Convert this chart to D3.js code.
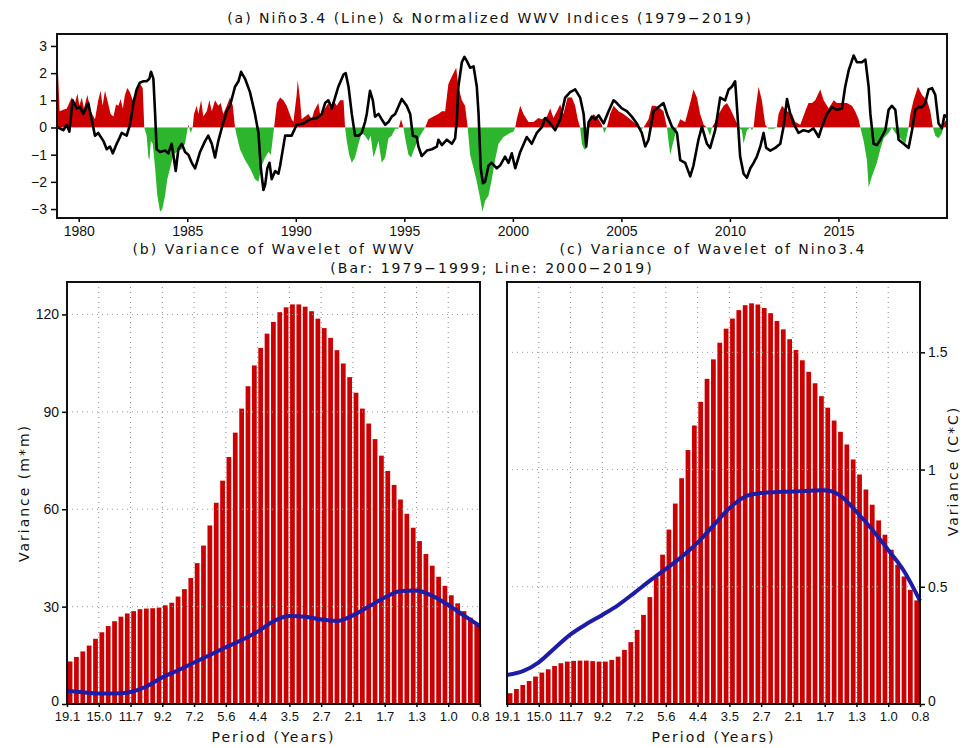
<!DOCTYPE html>
<html>
<head>
<meta charset="utf-8">
<script src="https://cdn.jsdelivr.net/npm/d3@7"></script>
<style>
body { margin: 0; background: #fff; }
text { font-family: "Liberation Sans", Arial, sans-serif; fill: #111; }
.title { font-family: "DejaVu Sans", sans-serif; font-size: 14px; letter-spacing: 2px; }
</style>
</head>
<body>
<div id="chart"></div>
<script>
// ---- data ----
var yearTicks = [1980, 1985, 1990, 1995, 2000, 2005, 2010, 2015];
var indexTicks = [-3, -2, -1, 0, 1, 2, 3];

// normalized WWV index [decimal year, value]
var wwvIndex = [
  [1979.0,2.6],[1979.05,2.0],[1979.12,0.6],[1979.29,0.65],[1979.45,0.7],[1979.68,1.1],[1979.83,0.9],[1979.94,1.25],[1980.03,0.8],
  [1980.14,1.1],[1980.24,0.7],[1980.40,1.2],[1980.55,0.6],[1980.75,0.3],[1980.90,1.0],[1981.01,1.35],[1981.10,0.8],
  [1981.21,1.35],[1981.32,1.0],[1981.47,0.5],[1981.60,0.4],[1981.72,0.85],[1981.83,0.8],[1981.93,1.05],[1982.03,0.7],
  [1982.13,1.2],[1982.24,1.45],[1982.36,1.3],[1982.49,1.0],[1982.67,1.4],[1982.82,1.6],[1982.95,1.45],[1983.02,0],
  [1983.13,-0.3],[1983.21,-1.1],[1983.26,-1.2],[1983.32,-0.5],[1983.41,-0.6],[1983.52,-1.5],[1983.62,-2.5],[1983.75,-3.1],
  [1983.85,-3.0],[1983.98,-2.5],[1984.08,-1.9],[1984.21,-1.5],[1984.36,-1.0],[1984.51,-0.9],[1984.75,-0.8],[1984.90,-0.6],
  [1984.98,-0.2],[1985.05,0.1],[1985.16,-0.2],[1985.25,0],[1985.31,0.5],[1985.44,0.8],[1985.51,0.5],[1985.64,1.0],
  [1985.74,0.4],[1985.90,0.6],[1986.02,1.0],[1986.13,0.6],[1986.28,1.0],[1986.43,0.8],[1986.54,0.9],[1986.66,0.5],
  [1986.82,0.8],[1986.97,1.1],[1987.10,0.8],[1987.20,0],[1987.28,-0.3],[1987.43,-0.8],[1987.66,-1.2],[1987.89,-1.5],
  [1988.12,-1.9],[1988.28,-2.0],[1988.43,-1.4],[1988.59,-1.1],[1988.74,-0.9],[1988.85,-1.0],[1988.94,-0.4],[1989.00,0],
  [1989.13,0.9],[1989.28,1.1],[1989.43,1.0],[1989.58,0.8],[1989.81,0.3],[1989.89,0.2],[1990.04,1.2],[1990.09,1.75],
  [1990.20,1.0],[1990.27,0.3],[1990.43,0.4],[1990.58,0.5],[1990.74,0.3],[1990.84,0.6],[1991.04,0.9],[1991.12,0.5],
  [1991.27,0.6],[1991.50,0.9],[1991.58,0.7],[1991.73,1.0],[1991.89,0.8],[1992.04,1.0],[1992.20,1.0],[1992.27,0],
  [1992.35,-0.5],[1992.46,-1.0],[1992.58,-1.3],[1992.73,-1.1],[1992.89,-0.6],[1993.04,-0.2],[1993.19,-0.3],[1993.35,-0.5],
  [1993.45,-0.3],[1993.58,-1.1],[1993.70,-0.8],[1993.81,-0.5],[1993.96,-1.3],[1994.12,-1.1],[1994.27,-0.4],[1994.42,-0.3],
  [1994.58,-0.05],[1994.73,-0.05],[1994.85,0.3],[1994.96,0],[1995.04,-0.4],[1995.19,-1.0],[1995.31,-1.1],[1995.50,-0.7],
  [1995.73,-0.3],[1995.96,0],[1996.11,0.3],[1996.34,0.4],[1996.57,0.5],[1996.73,0.6],[1996.88,0.6],[1997.03,1.6],
  [1997.26,2.0],[1997.39,2.2],[1997.49,1.5],[1997.65,1.0],[1997.80,0.8],[1997.92,0],[1998.03,-1.0],[1998.19,-1.5],
  [1998.34,-2.0],[1998.49,-2.6],[1998.60,-3.1],[1998.72,-2.7],[1998.88,-2.5],[1999.03,-1.9],[1999.18,-1.2],[1999.34,-0.6],
  [1999.57,-0.35],[1999.88,-0.2],[2000.03,-0.15],[2000.11,0],[2000.18,0.3],[2000.34,0.8],[2000.49,0.5],[2000.72,0.2],
  [2000.95,0.2],[2001.18,0.35],[2001.33,0.3],[2001.57,0.4],[2001.72,0.7],[2001.87,0.35],[2002.03,0.6],[2002.18,0.85],
  [2002.33,0.5],[2002.52,1.1],[2002.72,1.1],[2002.87,0.8],[2002.99,0.3],[2003.10,0],[2003.18,-0.6],[2003.29,-0.8],
  [2003.38,-0.8],[2003.42,0],[2003.56,0.3],[2003.72,0.5],[2003.95,0.3],[2004.10,0.1],[2004.21,-0.2],[2004.33,0],
  [2004.48,0.5],[2004.64,0.8],[2004.87,0.6],[2005.10,0.5],[2005.41,0.3],[2005.71,0.1],[2005.87,-0.1],[2006.02,0],
  [2006.25,0.3],[2006.40,0.8],[2006.56,0.8],[2006.79,0.7],[2006.94,0.6],[2007.10,0],[2007.17,-0.5],[2007.25,-1.0],
  [2007.37,-0.6],[2007.56,0],[2007.71,0.3],[2007.94,0.2],[2008.17,0.9],[2008.32,1.4],[2008.48,1.1],[2008.63,0.5],
  [2008.79,0.1],[2008.94,0],[2009.09,-0.3],[2009.17,0],[2009.32,0.2],[2009.48,0.5],[2009.71,0.8],[2009.86,0.9],
  [2010.01,0.7],[2010.24,0.3],[2010.40,0],[2010.55,-0.1],[2010.63,-0.6],[2010.78,-0.1],[2010.94,0],[2011.01,-0.1],
  [2011.09,0],[2011.17,0.6],[2011.32,1.5],[2011.47,1.0],[2011.63,0.1],[2011.78,-0.05],[2012.01,-0.05],[2012.16,0],
  [2012.24,0.5],[2012.40,0.8],[2012.63,0.6],[2012.86,0.5],[2013.01,0.2],[2013.24,0.1],[2013.47,0.6],[2013.62,0.9],
  [2013.78,0.9],[2013.93,1.0],[2014.16,1.4],[2014.32,1.0],[2014.55,0.7],[2014.78,1.0],[2014.93,0.9],[2015.16,0.9],
  [2015.39,0.9],[2015.62,0.8],[2015.77,0.6],[2015.93,0.3],[2016.01,0],[2016.16,-0.5],[2016.31,-1.2],[2016.39,-2.2],
  [2016.54,-1.8],[2016.77,-1.3],[2016.93,-0.8],[2017.08,-0.4],[2017.31,-0.2],[2017.46,0],[2017.62,-0.2],[2017.85,-0.4],
  [2018.08,-0.6],[2018.23,0],[2018.31,0.5],[2018.46,1.0],[2018.66,1.5],[2018.85,1.2],[2019.08,1.0],[2019.23,0.6],
  [2019.35,0],[2019.46,-0.3],[2019.61,-0.4],[2019.77,-0.2],[2019.88,0.2],[2020.0,0.3]
];

// Nino3.4 index [decimal year, value]
var ninoIndex = [
  [1979.0,0.0],[1979.06,0.0],[1979.29,-0.1],[1979.45,0.1],[1979.57,-0.15],[1979.72,1.0],[1979.91,0.7],[1980.06,0.75],
  [1980.21,0.5],[1980.44,0.9],[1980.75,-0.3],[1980.90,-0.2],[1981.14,-0.5],[1981.29,-0.8],[1981.44,-0.7],[1981.57,-0.95],
  [1981.75,-0.6],[1981.87,-0.4],[1981.98,-0.2],[1982.21,-0.3],[1982.36,0.1],[1982.52,0.9],[1982.67,1.4],[1982.82,1.65],
  [1982.98,1.7],[1983.13,1.7],[1983.26,1.8],[1983.33,2.05],[1983.44,1.8],[1983.52,0.5],[1983.59,-0.8],[1983.75,-0.9],
  [1983.98,-0.85],[1984.13,-0.95],[1984.28,-0.6],[1984.36,-1.0],[1984.47,-1.6],[1984.59,-0.8],[1984.75,-0.6],[1984.90,-0.9],
  [1985.05,-1.0],[1985.21,-1.3],[1985.36,-1.5],[1985.44,-1.3],[1985.59,-0.9],[1985.82,-0.5],[1985.97,-0.3],[1986.13,-0.6],
  [1986.28,-1.1],[1986.43,-0.5],[1986.63,0.1],[1986.82,0.6],[1986.97,0.8],[1987.20,1.5],[1987.36,1.7],[1987.48,2.05],
  [1987.66,1.8],[1987.89,1.3],[1988.12,0.5],[1988.28,-0.2],[1988.39,-1.5],[1988.51,-2.3],[1988.59,-2.1],[1988.69,-1.5],
  [1988.79,-1.3],[1988.89,-1.9],[1989.05,-1.6],[1989.20,-1.7],[1989.28,-1.4],[1989.51,-0.3],[1989.81,-0.3],[1990.04,0.1],
  [1990.35,0.15],[1990.66,0.3],[1990.97,0.35],[1991.20,0.5],[1991.35,0.9],[1991.50,1.0],[1991.66,0.7],[1991.81,1.1],
  [1991.96,1.5],[1992.20,1.95],[1992.30,2.0],[1992.43,1.5],[1992.58,0.5],[1992.73,-0.3],[1992.89,-0.3],[1993.04,-0.2],
  [1993.19,0.2],[1993.27,0.5],[1993.42,1.35],[1993.55,1.0],[1993.65,0.4],[1993.81,0.5],[1993.96,0.3],[1994.12,0.1],
  [1994.27,0.2],[1994.42,0.4],[1994.58,0.5],[1994.88,1.05],[1995.11,0.8],[1995.27,0.5],[1995.39,-0.3],[1995.57,-0.35],
  [1995.65,-0.7],[1995.80,-1.05],[1996.04,-0.85],[1996.27,-0.8],[1996.50,-0.7],[1996.57,-0.45],[1996.73,-0.65],[1996.96,-0.45],
  [1997.19,-0.6],[1997.34,-0.4],[1997.42,0.3],[1997.49,1.5],[1997.65,2.4],[1997.77,2.6],[1997.88,2.45],[1998.03,2.2],
  [1998.19,2.25],[1998.34,1.5],[1998.42,0.5],[1998.52,-1.5],[1998.62,-2.05],[1998.72,-2.0],[1998.88,-1.4],[1999.03,-1.3],
  [1999.26,-1.5],[1999.41,-1.4],[1999.64,-1.07],[1999.80,-1.3],[1999.95,-0.95],[2000.11,-1.5],[2000.34,-0.9],[2000.64,-0.35],
  [2000.87,-0.6],[2001.10,-0.2],[2001.33,0.0],[2001.49,0.35],[2001.72,0.15],[2001.95,-0.1],[2002.18,0.3],[2002.41,1.1],
  [2002.64,1.3],[2002.87,1.4],[2003.10,1.1],[2003.26,0.5],[2003.38,-0.7],[2003.49,0.2],[2003.64,0.4],[2003.79,0.3],
  [2003.95,0.45],[2004.18,0.15],[2004.41,0.6],[2004.64,1.0],[2004.79,0.9],[2005.02,0.7],[2005.25,0.6],[2005.48,0.4],
  [2005.71,0.15],[2005.94,-0.2],[2006.10,-0.7],[2006.25,-0.45],[2006.48,0.6],[2006.71,0.75],[2006.94,0.9],[2007.10,0.5],
  [2007.33,0.03],[2007.56,-0.2],[2007.71,-1.2],[2007.94,-1.3],[2008.17,-1.8],[2008.32,-1.4],[2008.55,-0.45],[2008.71,0.03],
  [2008.94,-0.6],[2009.09,-0.75],[2009.32,-0.1],[2009.55,1.1],[2009.78,1.0],[2009.94,1.4],[2010.09,1.5],[2010.24,1.7],
  [2010.35,0.45],[2010.47,-1.07],[2010.63,-1.7],[2010.78,-1.85],[2010.94,-1.5],[2011.09,-1.3],[2011.24,-1.07],[2011.40,-0.7],
  [2011.55,-0.2],[2011.67,-0.75],[2011.86,-0.85],[2012.09,-0.75],[2012.32,-0.6],[2012.47,0.03],[2012.63,1.05],[2012.78,0.5],
  [2012.93,0.15],[2013.16,-0.2],[2013.39,-0.1],[2013.62,-0.15],[2013.85,-0.03],[2014.09,-0.35],[2014.24,0.03],[2014.47,0.5],
  [2014.70,0.75],[2014.93,0.65],[2015.16,0.7],[2015.31,1.5],[2015.47,2.1],[2015.70,2.65],[2015.85,2.4],[2016.08,2.4],
  [2016.24,2.5],[2016.39,1.5],[2016.47,0.5],[2016.62,-0.6],[2016.77,-0.65],[2016.93,-0.45],[2017.16,-0.1],[2017.31,0.65],
  [2017.46,0.8],[2017.62,0.65],[2017.77,-0.45],[2018.00,-0.6],[2018.23,-0.75],[2018.39,-0.1],[2018.54,0.65],[2018.69,0.75],
  [2018.85,0.75],[2019.00,0.9],[2019.15,1.4],[2019.31,1.45],[2019.46,1.2],[2019.61,0.15],[2019.77,-0.03],[2019.88,0.45],
  [2020.0,0.4]
];

// wavelet periods (years), one label every 5 scales
var periodLabels = ["19.1","15.0","11.7","9.2","7.2","5.6","4.4","3.5","2.7","2.1","1.7","1.3","1.0","0.8"];

// (b) WWV wavelet variance, 1979-1999 bars (65 scales)
var wwvBars = [
  13.1,14.5,16.2,18.0,20.1,22.1,24.0,25.5,26.9,27.9,28.6,29.2,29.4,29.5,29.7,30.4,31.2,33.1,35.4,38.8,
  43.4,48.8,55.0,62.0,68.8,76.1,83.6,91.0,97.9,104.3,109.7,114.1,117.7,120.7,122.2,123.1,123.1,122.4,121.0,118.7,
  115.8,112.8,109.0,104.9,100.7,95.9,91.0,86.4,81.6,76.5,71.8,67.5,63.0,58.6,54.3,50.2,46.2,42.6,39.2,36.4,
  33.5,31.0,28.6,26.6,24.5
];
// (b) 2000-2019 line, sampled every 2.5 scales
var wwvLine = [4.1,3.6,3.2,3.2,3.7,5.4,8.2,10.4,12.8,15.1,17.5,19.7,22.3,25.5,27.1,26.9,26.0,25.6,27.3,30.0,32.8,34.8,35.0,33.3,30.5,27.2,24.0];

// (c) Nino3.4 wavelet variance, 1979-1999 bars
var ninoBars = [
  0.046,0.064,0.081,0.098,0.117,0.134,0.148,0.162,0.174,0.181,0.184,0.185,0.185,0.183,0.181,0.181,0.188,0.202,0.231,0.264,
  0.316,0.380,0.456,0.540,0.637,0.744,0.855,0.963,1.083,1.188,1.289,1.387,1.470,1.541,1.601,1.644,1.680,1.701,1.709,1.704,
  1.689,1.667,1.634,1.598,1.556,1.510,1.466,1.417,1.368,1.313,1.264,1.209,1.161,1.107,1.043,0.979,0.915,0.850,0.783,0.722,
  0.658,0.594,0.544,0.487,0.442
];
// (c) 2000-2019 line
var ninoLine = [0.124,0.140,0.178,0.238,0.297,0.341,0.380,0.422,0.473,0.526,0.576,0.628,0.688,0.762,0.835,0.885,0.900,0.904,0.906,0.910,0.912,0.888,0.820,0.743,0.657,0.566,0.440];

var red = "#cc0000", green = "#2db52d", blue = "#1c1ca6";

var width = 964, height = 748;
var svg = d3.select("#chart").append("svg")
  .attr("width", width)
  .attr("height", height);

// ===== panel (a) =====
var pa = {x0: 57, x1: 947, y0: 34, y1: 218};
var xa = d3.scaleLinear().domain([1979, 2020]).range([pa.x0, pa.x1]);
var ya = d3.scaleLinear().domain([-3.33, 3.44]).range([pa.y1, pa.y0]);

var defs = svg.append("defs");
defs.append("clipPath").attr("id", "clip-pos").append("rect")
  .attr("x", pa.x0).attr("y", pa.y0)
  .attr("width", pa.x1 - pa.x0).attr("height", ya(0) - pa.y0);
defs.append("clipPath").attr("id", "clip-neg").append("rect")
  .attr("x", pa.x0).attr("y", ya(0))
  .attr("width", pa.x1 - pa.x0).attr("height", pa.y1 - ya(0));

var area = d3.area()
  .x(function(d) { return xa(d[0]); })
  .y0(ya(0))
  .y1(function(d) { return ya(d[1]); });

svg.append("path").datum(wwvIndex)
  .attr("d", area).attr("fill", red).attr("clip-path", "url(#clip-pos)");
svg.append("path").datum(wwvIndex)
  .attr("d", area).attr("fill", green).attr("clip-path", "url(#clip-neg)");

svg.append("path").datum(ninoIndex)
  .attr("d", d3.line()
    .x(function(d) { return xa(d[0]); })
    .y(function(d) { return ya(d[1]); }))
  .attr("fill", "none")
  .attr("stroke", "#000")
  .attr("stroke-width", 2.6)
  .attr("stroke-linejoin", "round");

var axA = svg.append("g").attr("transform", "translate(0," + pa.y1 + ")")
  .call(d3.axisBottom(xa).tickValues(yearTicks).tickFormat(d3.format("d")).tickSize(4).tickPadding(4));
var ayA = svg.append("g").attr("transform", "translate(" + pa.x0 + ",0)")
  .call(d3.axisLeft(ya).tickValues(indexTicks).tickFormat(d3.format("d")).tickSize(6).tickPadding(4));
[axA, ayA].forEach(function(g) {
  g.select(".domain").remove();
  g.selectAll("line").attr("stroke", "#000").attr("stroke-width", 1.5);
  g.selectAll("text").style("font-size", "14px").style("fill", "#111");
});

svg.append("rect")
  .attr("x", pa.x0).attr("y", pa.y0)
  .attr("width", pa.x1 - pa.x0).attr("height", pa.y1 - pa.y0)
  .attr("fill", "none").attr("stroke", "#111").attr("stroke-width", 2);

svg.append("text").attr("class", "title")
  .attr("x", 490).attr("y", 23).attr("text-anchor", "middle")
  .text("(a) Niño3.4 (Line) & Normalized WWV Indices (1979\u22122019)");

// ===== panels (b) and (c) =====
var py0 = 282, py1 = 704;

function drawPanel(x0, x1, bars, lineVals, yMax, yTicks, side, yLabel) {
  var xb = d3.scaleLinear().domain([0, bars.length]).range([x0, x1]);
  var yb = d3.scaleLinear().domain([0, yMax]).range([py1, py0]);
  var slot = xb(1) - xb(0);
  var g = svg.append("g");

  g.selectAll(".bar")
    .data(bars)
    .enter().append("rect")
    .attr("class", "bar")
    .attr("x", function(d, i) { return xb(i) + 0.7; })
    .attr("width", slot - 1.6)
    .attr("y", function(d) { return yb(d); })
    .attr("height", function(d) { return yb(0) - yb(d); })
    .attr("fill", red);

  // dotted grid
  var tickIdx = d3.range(0, bars.length + 1, 5);
  g.selectAll(".vgrid")
    .data(tickIdx.slice(1, -1))
    .enter().append("line")
    .attr("x1", function(d) { return xb(d); })
    .attr("x2", function(d) { return xb(d); })
    .attr("y1", py0).attr("y2", py1)
    .attr("stroke", "#888").attr("stroke-width", 1)
    .attr("stroke-dasharray", "1,4");
  g.selectAll(".hgrid")
    .data(yTicks.filter(function(d) { return d > 0; }))
    .enter().append("line")
    .attr("x1", x0).attr("x2", x1)
    .attr("y1", function(d) { return yb(d); })
    .attr("y2", function(d) { return yb(d); })
    .attr("stroke", "#999").attr("stroke-width", 1)
    .attr("stroke-dasharray", "1,4");

  var step = bars.length / (lineVals.length - 1);
  g.append("path").datum(lineVals)
    .attr("d", d3.line()
      .x(function(d, i) { return xb(i * step); })
      .y(function(d) { return yb(d); })
      .curve(d3.curveMonotoneX))
    .attr("fill", "none")
    .attr("stroke", blue)
    .attr("stroke-width", 4);

  var ax = g.append("g").attr("transform", "translate(0," + py1 + ")")
    .call(d3.axisBottom(xb).tickValues(tickIdx)
      .tickFormat(function(d) { return periodLabels[d / 5]; })
      .tickSize(3).tickPadding(5));
  var yAxis = side === "left" ? d3.axisLeft(yb) : d3.axisRight(yb);
  var ay = g.append("g").attr("transform", "translate(" + (side === "left" ? x0 : x1) + ",0)")
    .call(yAxis.tickValues(yTicks).tickFormat(d3.format("~g")).tickSize(5).tickPadding(3));
  [ax, ay].forEach(function(a) {
    a.select(".domain").remove();
    a.selectAll("line").attr("stroke", "#000").attr("stroke-width", 1.5);
    a.selectAll("text").style("font-size", "14px").style("fill", "#111");
  });
  ax.selectAll("text").style("font-size", "13px");
  // lift the zero label a little so it clears the period labels
  ay.selectAll(".tick").filter(function(d) { return d === 0; })
    .select("text").attr("dy", "0.1em");

  g.append("rect")
    .attr("x", x0).attr("y", py0)
    .attr("width", x1 - x0).attr("height", py1 - py0)
    .attr("fill", "none").attr("stroke", "#111").attr("stroke-width", 2);

  g.append("text").attr("class", "title")
    .attr("x", (x0 + x1) / 2).attr("y", 742).attr("text-anchor", "middle")
    .text("Period (Years)");

  var lx = side === "left" ? 24 : 953;
  g.append("text").attr("class", "title")
    .attr("transform", "translate(" + lx + "," + ((py0 + py1) / 2 + (side === "left" ? 0 : -22)) + ") rotate(-90)")
    .attr("text-anchor", "middle")
    .attr("dy", "0.35em")
    .text(yLabel);
}

drawPanel(67, 480, wwvBars, wwvLine, 130, [0, 30, 60, 90, 120], "left", "Variance (m*m)");
drawPanel(507, 920, ninoBars, ninoLine, 1.8, [0, 0.5, 1, 1.5], "right", "Variance (C*C)");

svg.append("text").attr("class", "title")
  .attr("x", 274).attr("y", 254).attr("text-anchor", "middle")
  .text("(b) Variance of Wavelet of WWV");
svg.append("text").attr("class", "title")
  .attr("x", 713).attr("y", 254).attr("text-anchor", "middle")
  .text("(c) Variance of Wavelet of Nino3.4");
svg.append("text").attr("class", "title")
  .attr("x", 492).attr("y", 273).attr("text-anchor", "middle")
  .text("(Bar: 1979\u22121999; Line: 2000\u22122019)");
</script>
</body>
</html>
